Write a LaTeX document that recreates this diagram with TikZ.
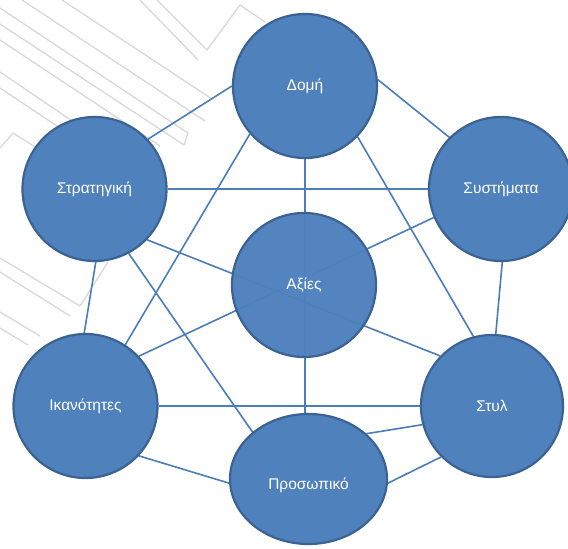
\documentclass[tikz,border=0pt]{standalone}
\usepackage{fontspec}
\setmainfont{Liberation Sans}
\usetikzlibrary{shapes.geometric}
\definecolor{sfill}{HTML}{4F81BD}
\definecolor{sedge}{HTML}{3A6393}
\definecolor{slink}{HTML}{4A7EBB}
\definecolor{wmark}{HTML}{D8D8D8}
\pgfdeclarelayer{back}
\pgfsetlayers{back,main}

\begin{document}
\begin{tikzpicture}[x=1pt,y=-1pt,
  sphere/.style={circle, minimum size=144pt, inner sep=0pt, fill=sfill,
    draw=sedge, line width=2.2pt, text=white,
    font=\fontsize{15.5}{18}\selectfont},
  oval/.style={ellipse, minimum width=157pt, minimum height=130pt,
    inner sep=0pt, fill=sfill, draw=sedge, line width=2.2pt},
  caption/.style={text=white, font=\fontsize{15.5}{18}\selectfont},
  link/.style={draw=slink, line width=1.6pt},
  wm/.style={draw=wmark, line width=1.3pt, line join=round}
]
\useasboundingbox (0,0) rectangle (568,549);

% the seven elements
\node[sphere] (dom)   at (305,86)    {Δομή};
\node[sphere] (strat) at (94.5,189)  {Στρατηγική};
\node[sphere] (syst)  at (501,189)   {Συστήματα};
\node[sphere, fill opacity=0.97, text opacity=1] (axies) at (304,285) {Αξίες};
\node[sphere] (ikan)  at (85.5,406)  {Ικανότητες};
\node[sphere, minimum size=142pt] (styl) at (492,406) {Στυλ};
\node[oval] (pros) at (308.5,479) {};
\node[caption] (proslbl) at ([yshift=-6pt]pros.center) {Προσωπικό};

\begin{pgfonlayer}{back}
  \fill[white] (0,0) rectangle (568,549);
  % faint pattern in the upper left
  \draw[wm] (0,8) -- (188,133) -- (184,145) -- (0,24);
  \draw[wm] (0,40) -- (160,146);
  \draw[wm] (22,0) -- (205,121);
  \draw[wm] (62,0) -- (212,99);
  \draw[wm] (157,0) -- (207,50) -- (240,5) -- (265,22);
  \draw[wm] (140,0) -- (198,60);
  \draw[wm] (0,72) -- (118,152);
  \draw[wm] (0,88) -- (105,158);
  \draw[wm] (0,148) -- (13,133) -- (40,150);
  \draw[wm] (0,258) -- (80,306) -- (108,262);
  \draw[wm] (0,272) -- (70,316);
  \draw[wm] (0,312) -- (40,336);
  \draw[wm] (0,328) -- (28,345);

  % connectors between the elements
  \draw[link] (strat.43.6) -- (dom.180);
  \draw[link] (dom.5) -- (syst.135);
  \draw[link] (dom.south) -- (dom.south |- pros.north);
  \draw[link] (dom.221) -- (ikan.57);
  \draw[link] (dom.316) -- (styl.105.6);
  \draw[link] (strat.east) -- (syst.west);
  \draw[link] (strat.316.4) -- (styl.136.7);
  \draw[link] (strat.271) -- (ikan.91);
  \draw[link] (strat.298) -- (pros.140.8);
  \draw[link] (ikan.43.1) -- (syst.203.1);
  \draw[link] (syst.271.6) -- (styl.87.5);
  \draw[link] (ikan.east) -- (styl.west);
  \draw[link] (ikan.317) -- (pros.183);
  \draw[link] (pros.38.5) -- (styl.195.2);
  \draw[link] (pros.357) -- (styl.225);
\end{pgfonlayer}
\end{tikzpicture}
\end{document}
